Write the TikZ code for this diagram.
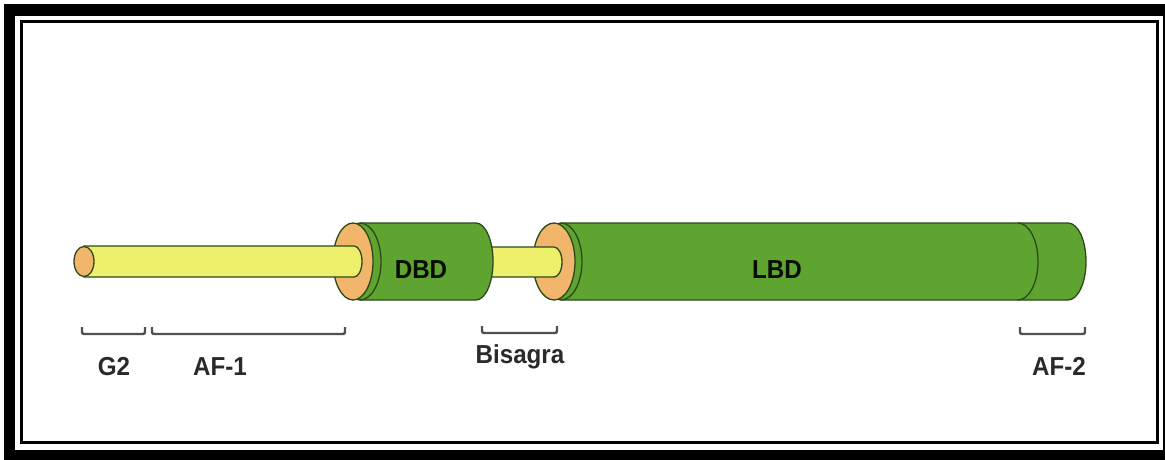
\documentclass[tikz,border=0pt]{standalone}
\usepackage{fontspec}
\newfontfamily\lblfont[FakeStretch=0.93]{Liberation Sans}
\definecolor{domgreen}{HTML}{5FA431}
\definecolor{rimgreen}{HTML}{2B4A18}
\definecolor{faceorange}{HTML}{F2B56C}
\definecolor{rodyellow}{HTML}{EEF06C}
\definecolor{bracketgray}{HTML}{505050}
\definecolor{labelgray}{HTML}{2A2A2A}
\begin{document}
\begin{tikzpicture}[x=1pt,y=-1pt,
  rimline/.style={draw=rimgreen,line width=1.3pt},
  dombody/.style={rimline,fill=domgreen},
  endface/.style={rimline,fill=faceorange},
  rodbody/.style={rimline,fill=rodyellow},
  bracketline/.style={draw=bracketgray,line width=2.4pt,rounded corners=2pt},
  lbltext/.style={font=\lblfont\bfseries\fontsize{26}{30}\selectfont,text=labelgray,inner sep=0pt},
  domtext/.style={lbltext,text=black!85!rimgreen}]
\useasboundingbox (0,0) rectangle (1165,460);

% double frame
\fill[black] (4,4) rectangle (1165,460);
\fill[white] (15,16) rectangle (1163,450);
\draw[black,line width=3.5pt] (21.5,21.5) rectangle (1157.5,442.5);

% LBD cylinder
\path[dombody] (561,223) -- (1068,223)
  arc[start angle=90,end angle=-90,x radius=18pt,y radius=38.5pt]
  -- (561,300)
  arc[start angle=270,end angle=90,x radius=21pt,y radius=38.5pt] -- cycle;
\draw[rimline] (1018,223) arc[start angle=90,end angle=-90,x radius=20pt,y radius=38.5pt];
\draw[rimline] (561,223) arc[start angle=90,end angle=-90,x radius=21pt,y radius=38.5pt];
\path[endface] (554,261.5) ellipse[x radius=21pt,y radius=38.5pt];

% hinge rod
\path[rodbody] (485,247) -- (554,247)
  arc[start angle=90,end angle=-90,x radius=8pt,y radius=15pt]
  -- (485,277) -- cycle;

% DBD cylinder
\path[dombody] (360,223) -- (476,223)
  arc[start angle=90,end angle=-90,x radius=17pt,y radius=38.5pt]
  -- (360,300)
  arc[start angle=270,end angle=90,x radius=21pt,y radius=38.5pt] -- cycle;
\draw[rimline] (360,223) arc[start angle=90,end angle=-90,x radius=21pt,y radius=38.5pt];
\path[endface] (353,261.5) ellipse[x radius=20pt,y radius=38.5pt];

% AF-1 rod with G2 end cap
\path[rodbody] (84,246) -- (354,246)
  arc[start angle=90,end angle=-90,x radius=8pt,y radius=15.5pt]
  -- (84,277) -- cycle;
\path[endface] (84,261.5) ellipse[x radius=10pt,y radius=15pt];

% domain labels
\node[domtext] (dbd) at (421,270) {DBD};
\node[domtext] (lbd) at (777,270) {LBD};

% brackets
\draw[bracketline] (82,327) -- (82,334) -- (145,334) -- (145,327);
\draw[bracketline] (152,327) -- (152,334) -- (345,334) -- (345,327);
\draw[bracketline] (482,326) -- (482,333) -- (557,333) -- (557,326);
\draw[bracketline] (1020,327) -- (1020,334) -- (1085,334) -- (1085,327);

% bracket labels
\node[lbltext] (g2) at (114,367) {G2};
\node[lbltext] (af1) at (220,367) {AF-1};
\node[lbltext] (bis) at (520,357) {Bisagra};
\node[lbltext] (af2) at (1059,366) {AF-2};
\end{tikzpicture}
\end{document}
